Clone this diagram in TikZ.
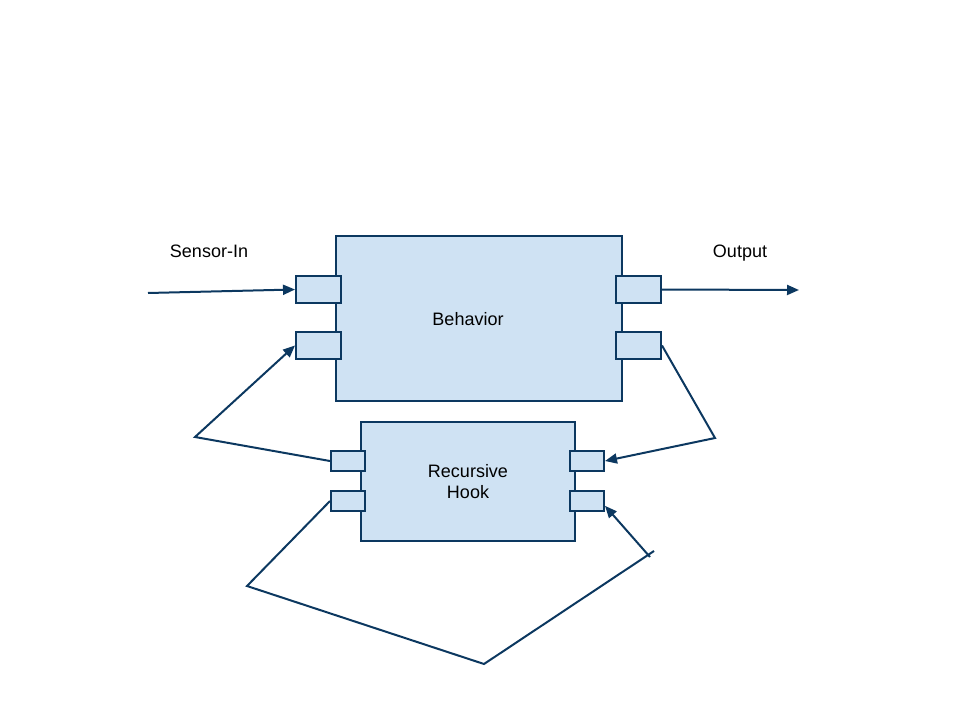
\documentclass[tikz,border=0pt]{standalone}
\usepackage{fontspec}
\setmainfont{Liberation Sans}
\usepackage{tikz}
\usetikzlibrary{arrows.meta}
\definecolor{boxFill}{RGB}{207,226,243}
\definecolor{boxLine}{RGB}{12,56,96}

\begin{document}
\begin{tikzpicture}[x=1pt, y=-1pt, auto,
        every node/.style={font=\fontsize{18}{21}\selectfont}]
        \tikzstyle{blockStyle} = [rectangle,draw=boxLine,fill=boxFill,line width=2pt,inner sep=0pt]
        \tikzstyle{portStyle} = [rectangle,draw=boxLine,fill=boxFill,line width=2pt,inner sep=0pt]
        \tikzstyle{wireEdge} = [draw=boxLine, line width=2pt, line join=miter]
        \tikzstyle{arrowEdge} = [wireEdge, -{Triangle[length=12pt,width=10pt]}]
        \useasboundingbox (0,0) rectangle (960,720);
        \node[blockStyle, minimum width=286, minimum height=165] (behavior) at (479,318.5) {};
        \node (behaviorLabel) at (468,319) {Behavior};
        \node[blockStyle, minimum width=214, minimum height=119, align=center] (hook) at (468,481.5) {Recursive\\Hook};
        \node[portStyle, minimum width=45, minimum height=27] (bl1) at (318.5,289.5) {};
        \node[portStyle, minimum width=45, minimum height=27] (bl2) at (318.5,345.5) {};
        \node[portStyle, minimum width=45, minimum height=27] (br1) at (638.5,289.5) {};
        \node[portStyle, minimum width=45, minimum height=27] (br2) at (638.5,345.5) {};
        \node[portStyle, minimum width=34, minimum height=20] (hl1) at (348,461) {};
        \node[portStyle, minimum width=34, minimum height=20] (hl2) at (348,501) {};
        \node[portStyle, minimum width=34, minimum height=20] (hr1) at (587,461) {};
        \node[portStyle, minimum width=34, minimum height=20] (hr2) at (587,501) {};
        \node (sensorLabel) at (209,251) {Sensor-In};
        \node (outputLabel) at (740,253) {Output};
        \coordinate (sensor) at (148,293);
        \coordinate (output) at (799,290);
        \coordinate (k1) at (195,437);
        \coordinate (k2) at (715,438);
        \coordinate (k3) at (247,586);
        \coordinate (k4) at (484,664);
        \coordinate (k5) at (654,551);
        \coordinate (k6) at (650,557);
        \path[arrowEdge] (sensor) -- (bl1.west);
        \path[arrowEdge] (br1.east) -- (output);
        \path[arrowEdge] (hl1.west) -- (k1) -- (bl2.west);
        \path[arrowEdge] (br2.east) -- (k2) -- (hr1.east);
        \path[wireEdge] (hl2.west) -- (k3) -- (k4) -- (k5);
        \path[arrowEdge] (k6) -- (hr2.-15);
    \end{tikzpicture}
\end{document}
